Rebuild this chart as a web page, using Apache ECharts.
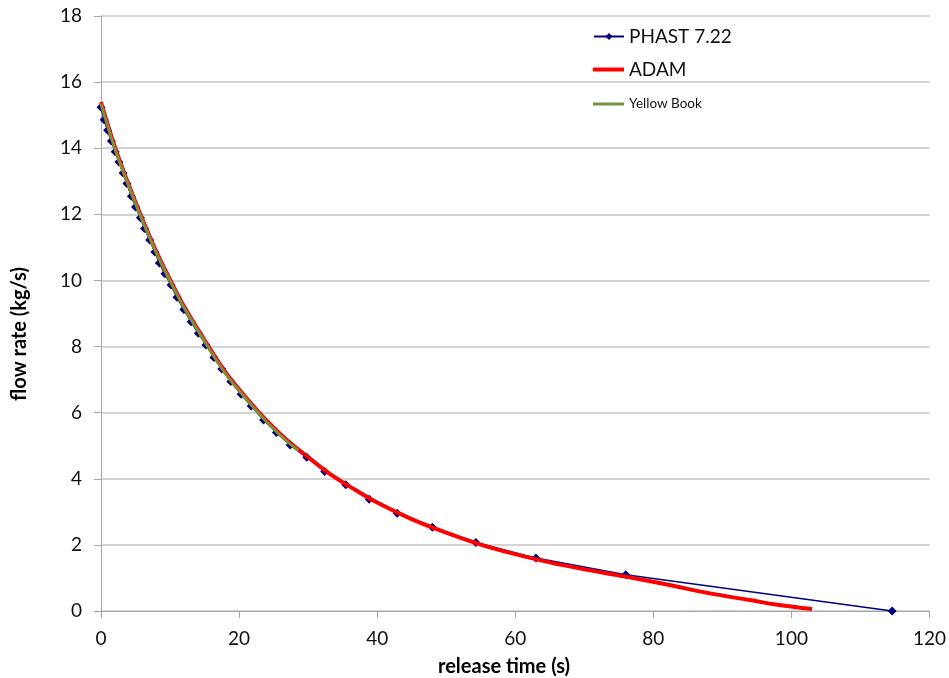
<!DOCTYPE html>
<html>
<head>
<meta charset="utf-8">
<script src="https://cdn.jsdelivr.net/npm/echarts@6/dist/echarts.min.js"></script>
<style>
  html, body { margin: 0; padding: 0; background: #fff; }
  #chart { width: 949px; height: 678px; }
</style>
</head>
<body>
<div id="chart"></div>
<script>
// PHAST 7.22 discharge calculation (time s, flow rate kg/s)
const phastTime = [0, 0.45, 0.95, 1.5, 2.05, 2.6, 3.2, 3.75, 4.4, 5.0, 5.7, 6.3, 7.05, 7.8, 8.45, 9.25, 10.15, 11.0, 12.0, 13.05, 14.1, 15.2, 16.35, 17.5, 18.8, 20.3, 21.75, 23.55, 25.4, 27.4, 29.8, 32.4, 35.45, 38.85, 42.9, 48.0, 54.3, 63.0, 76.0, 114.6];
const phastRate = [15.24, 14.86, 14.54, 14.22, 13.89, 13.58, 13.25, 12.93, 12.55, 12.22, 11.90, 11.57, 11.22, 10.86, 10.53, 10.20, 9.86, 9.49, 9.12, 8.75, 8.40, 8.05, 7.67, 7.32, 6.94, 6.56, 6.20, 5.78, 5.40, 5.02, 4.65, 4.22, 3.82, 3.38, 2.96, 2.53, 2.07, 1.60, 1.10, 0];

// ADAM model
const adamTime = [0, 2, 4, 6, 8, 10, 12, 15, 18, 21, 24, 27, 30, 33, 36, 40, 45, 50, 55, 60, 65, 70, 76, 82, 88, 94, 98, 103];
const adamRate = [15.4, 14.05, 12.9, 11.85, 10.88, 10.03, 9.23, 8.2, 7.23, 6.46, 5.76, 5.16, 4.66, 4.17, 3.77, 3.28, 2.78, 2.37, 2.01, 1.72, 1.47, 1.26, 1.04, 0.8, 0.54, 0.33, 0.19, 0.06];

// Yellow Book model
const ybTime = [0, 2, 4, 6, 8, 10, 12, 15, 18, 21, 24, 27, 28.6];
const ybRate = [15.35, 14.0, 12.86, 11.81, 10.84, 9.99, 9.19, 8.16, 7.19, 6.42, 5.72, 5.12, 4.86];

const xTicks = { min: 0, max: 120, step: 20 };
const yTicks = { min: 0, max: 18, step: 2 };

const xTitle = 'release time (s)';
const yTitle = 'flow rate (kg/s)';

const pairs = (xs, ys) => xs.map((x, i) => [x, ys[i]]);

const FONT = 'Lato, "Open Sans", sans-serif';
const chart = echarts.init(document.getElementById('chart'), null, { renderer: 'canvas' });

chart.setOption({
  animation: false,
  backgroundColor: '#ffffff',
  grid: { left: 101, right: 19, top: 16, bottom: 67 },
  legend: [
    {
      left: 593, top: 27, padding: 0, itemWidth: 30, itemHeight: 9, itemGap: 0,
      data: [{ name: 'PHAST 7.22' }],
      textStyle: { fontFamily: FONT, fontSize: 19, color: '#111' }
    },
    {
      left: 593, top: 60, padding: 0, itemWidth: 31, itemHeight: 14, itemGap: 0,
      data: [{ name: 'ADAM', icon: 'path://M0,5.5 L31,5.5 L31,9.5 L0,9.5 Z' }],
      textStyle: { fontFamily: FONT, fontSize: 19, color: '#111' }
    },
    {
      left: 593, top: 97, padding: 0, itemWidth: 31, itemHeight: 14, itemGap: 0,
      data: [{ name: 'Yellow Book', icon: 'path://M0,6 L31,6 L31,9 L0,9 Z' }],
      textStyle: { fontFamily: FONT, fontSize: 13.5, color: '#111' }
    }
  ],
  graphic: [
    {
      type: 'text', left: 438, top: 657,
      style: { text: xTitle, font: 'bold 20px ' + FONT, fill: '#000' }
    },
    {
      type: 'text', x: 20, y: 334, rotation: Math.PI / 2,
      style: { text: yTitle, font: 'bold 20px ' + FONT, fill: '#000', align: 'center', verticalAlign: 'middle' }
    }
  ],
  xAxis: {
    type: 'value',
    min: xTicks.min, max: xTicks.max, interval: xTicks.step,
    axisLine: { show: true, onZero: false, lineStyle: { color: '#a6a6a6', width: 1 } },
    axisTick: { show: true, length: 7, lineStyle: { color: '#a6a6a6' } },
    axisLabel: { margin: 18, fontFamily: FONT, fontSize: 19, color: '#111' },
    splitLine: { show: false }
  },
  yAxis: {
    type: 'value',
    min: yTicks.min, max: yTicks.max, interval: yTicks.step,
    axisLine: { show: true, lineStyle: { color: '#a6a6a6', width: 1 } },
    axisTick: { show: true, length: 7, lineStyle: { color: '#a6a6a6' } },
    axisLabel: { margin: 19, fontFamily: FONT, fontSize: 19, color: '#111' },
    splitLine: { show: true, lineStyle: { color: '#c4c4c4', width: 1.5 } }
  },
  series: [
    {
      name: 'PHAST 7.22',
      type: 'line',
      data: pairs(phastTime, phastRate),
      symbol: 'diamond',
      symbolSize: 9,
      showSymbol: true,
      lineStyle: { color: '#000080', width: 1.5 },
      itemStyle: { color: '#000080' },
      z: 2
    },
    {
      name: 'ADAM',
      type: 'line',
      data: pairs(adamTime, adamRate),
      smooth: 0.4,
      showSymbol: false,
      symbol: 'none',
      lineStyle: { color: '#ff0000', width: 4 },
      itemStyle: { color: '#ff0000' },
      z: 3
    },
    {
      name: 'Yellow Book',
      type: 'line',
      data: pairs(ybTime, ybRate),
      smooth: 0.4,
      showSymbol: false,
      symbol: 'none',
      lineStyle: { color: '#77933c', width: 3 },
      itemStyle: { color: '#77933c' },
      z: 4
    }
  ]
});
</script>
</body>
</html>
